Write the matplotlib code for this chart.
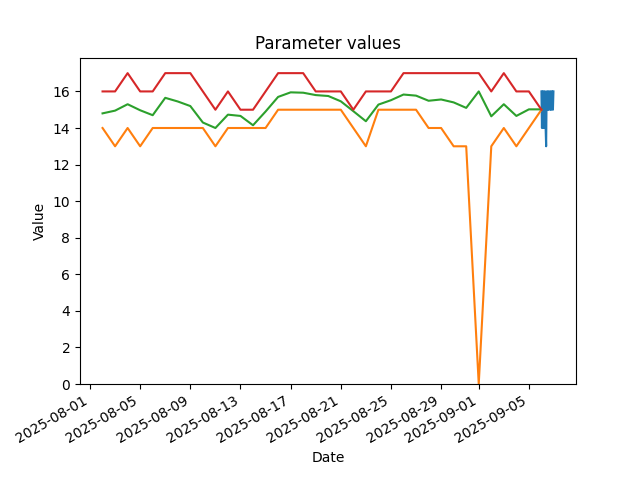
"""
Parameter values: daily min / mean / max plus the latest raw readings.
"""
import pandas as pd
import matplotlib
matplotlib.use("Agg")
import matplotlib.pyplot as plt

# daily summaries, 2025-08-02 .. 2025-09-06
days = pd.date_range("2025-08-02", "2025-09-06", freq="D")

daily_min = [14, 13, 14, 13, 14, 14, 14, 14, 14, 13, 14, 14, 14, 14, 15, 15, 15, 15,
             15, 15, 14, 13, 15, 15, 15, 15, 14, 14, 13, 13, 0, 13, 14, 13, 14, 15]
daily_mean = [14.8, 14.95, 15.3, 14.97, 14.7, 15.65, 15.45, 15.2, 14.3, 14.0, 14.73, 14.66,
              14.15, 14.9, 15.7, 15.95, 15.93, 15.8, 15.75, 15.46, 14.92, 14.37, 15.28, 15.52,
              15.83, 15.77, 15.49, 15.56, 15.4, 15.1, 16.0, 14.64, 15.3, 14.66, 15.02, 15.02]
daily_max = [16, 16, 17, 16, 16, 17, 17, 17, 16, 15, 16, 15, 15, 16, 17, 17, 17, 16,
             16, 16, 15, 16, 16, 16, 17, 17, 17, 17, 17, 17, 17, 16, 17, 16, 16, 15]

# raw readings of the last day, hourly
raw_times = pd.date_range("2025-09-06 00:00", periods=24, freq="h")
raw_values = [16, 14, 16, 16, 14, 16, 14, 16, 14, 13, 16, 16,
              15, 16, 15, 16, 16, 15, 16, 15, 16, 16, 15, 16]

fig, ax = plt.subplots(figsize=(6.4, 4.8), dpi=100)
ax.plot(raw_times, raw_values)
ax.plot(days, daily_min)
ax.plot(days, daily_mean)
ax.plot(days, daily_max)
ax.set_ylim(bottom=0)
ax.set_title("Parameter values")
ax.set_xlabel("Date")
ax.set_ylabel("Value")
fig.autofmt_xdate()
fig.savefig("out.png")
